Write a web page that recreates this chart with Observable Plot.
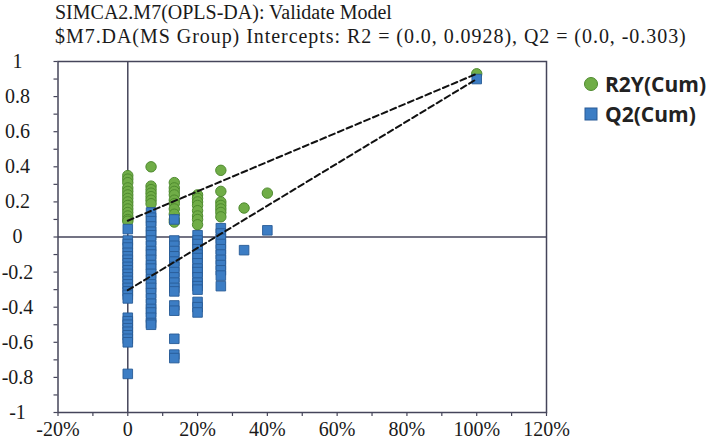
<!DOCTYPE html>
<html>
<head>
<meta charset="utf-8">
<script src="https://cdn.jsdelivr.net/npm/d3@7"></script>
<script src="https://cdn.jsdelivr.net/npm/@observablehq/plot@0.6"></script>
<style>
  html, body { margin: 0; padding: 0; background: #fff; }
  #wrap { position: relative; width: 709px; height: 445px; overflow: hidden; }
  #titles { height: 48px; padding-left: 55px; font-family: "Liberation Serif", "DejaVu Serif", serif; font-size: 20px; line-height: 24px; color: #1a1a1a; white-space: nowrap; }
  #titles .sub { letter-spacing: 0.95px; }
  #chart svg text { font-family: "Liberation Serif", "DejaVu Serif", serif !important; }
  #legend { position: absolute; left: 583px; top: 69px; font-family: "Open Sans", sans-serif; font-weight: 700; font-size: 21px; color: #222; white-space: nowrap; }
  .item { display: flex; align-items: center; height: 30px; }
  .item svg { margin-right: 6px; flex: none; }
</style>
</head>
<body>
<div id="wrap">
  <div id="titles">
    <div>SIMCA2.M7(OPLS-DA): Validate Model</div>
    <div class="sub">$M7.DA(MS Group) Intercepts: R2 = (0.0, 0.0928), Q2 = (0.0, -0.303)</div>
  </div>
  <div id="chart"></div>
  <div id="legend"></div>
</div>
<script>
// ---- data ----
const seriesNames = ["R2Y(Cum)", "Q2(Cum)"];
const permCorr = [0, 0.0667, 0.1333, 0.2, 0.2667, 0.3333, 0.4, 1.0];
const r2yValues = [
  [0.35, 0.33, 0.31, 0.28, 0.26, 0.24, 0.22, 0.20, 0.18, 0.16, 0.14, 0.12, 0.10, 0.09],
  [0.40, 0.29, 0.27, 0.25, 0.23, 0.21, 0.19],
  [0.31, 0.28, 0.26, 0.24, 0.21, 0.19, 0.16, 0.13, 0.10, 0.085],
  [0.24, 0.22, 0.20, 0.18, 0.15, 0.12, 0.10, 0.07],
  [0.38, 0.26, 0.20, 0.18, 0.16, 0.14, 0.115],
  [0.165],
  [0.25],
  [0.93]
];
const q2Values = [
  [0.045, -0.02, -0.04, -0.06, -0.09, -0.11, -0.13, -0.15, -0.17, -0.19, -0.21, -0.23, -0.25, -0.27, -0.29, -0.31, -0.33, -0.35, -0.46, -0.48, -0.50, -0.52, -0.54, -0.56, -0.58, -0.60, -0.78],
  [0.14, 0.11, 0.09, 0.06, 0.03, 0.01, -0.02, -0.05, -0.08, -0.10, -0.13, -0.16, -0.18, -0.21, -0.24, -0.27, -0.29, -0.32, -0.35, -0.38, -0.41, -0.43, -0.46, -0.49, -0.50],
  [0.10, -0.02, -0.05, -0.08, -0.11, -0.14, -0.17, -0.20, -0.23, -0.26, -0.29, -0.31, -0.39, -0.42, -0.58, -0.67, -0.69],
  [0.01, -0.02, -0.04, -0.07, -0.10, -0.12, -0.15, -0.18, -0.20, -0.23, -0.26, -0.28, -0.30, -0.37, -0.40, -0.43],
  [0.05, 0.02, -0.01, -0.04, -0.07, -0.10, -0.13, -0.16, -0.19, -0.22, -0.28],
  [-0.075],
  [0.038],
  [0.90]
];
const r2Intercept = 0.0928;
const q2Intercept = -0.303;
const xTicks = [-0.2, 0, 0.2, 0.4, 0.6, 0.8, 1.0, 1.2];
const yTicks = [-1, -0.8, -0.6, -0.4, -0.2, 0, 0.2, 0.4, 0.6, 0.8, 1];

// ---- styles ----
const serif = "Liberation Serif";
const axisColor = "#45455a";
const green = "#70ad47", greenStroke = "#4e8a2e";
const blue = "#3c7dc4", blueStroke = "#285b96";

// ---- tables ----
const r2Table = permCorr.flatMap((x, i) => r2yValues[i].map(v => ({x, v})));
const q2Table = permCorr.flatMap((x, i) => q2Values[i].map(v => ({x, v})));
const lastIdx = permCorr.length - 1;
const r2Line = [{x: 0, v: r2Intercept}, {x: permCorr[lastIdx], v: r2yValues[lastIdx][0]}];
const q2Line = [{x: 0, v: q2Intercept}, {x: permCorr[lastIdx], v: q2Values[lastIdx][0]}];

const xFmt = d => Math.abs(d) < 1e-9 ? "0" : `${Math.round(d * 100)}%`;
const yFmt = d => String(Math.round(d * 10) / 10);

const chart = Plot.plot({
  width: 709,
  height: 397,
  marginTop: 13,
  marginBottom: 33,
  marginLeft: 57.5,
  marginRight: 163,
  x: {domain: [-0.2, 1.2]},
  y: {domain: [-1, 1]},
  style: {fontFamily: serif, fontSize: "20px", color: "#1a1a1a", background: "white", overflow: "visible"},
  marks: [
    Plot.ruleX([0], {stroke: axisColor, strokeWidth: 1.5}),
    Plot.ruleY([0], {stroke: axisColor, strokeWidth: 1.5}),
    Plot.axisY({ticks: 20, tickSize: 4, tickFormat: () => "", stroke: axisColor, strokeWidth: 1.2, label: null}),
    Plot.axisX({ticks: 14, tickSize: 4, tickFormat: () => "", stroke: axisColor, strokeWidth: 1.2, label: null}),
    Plot.text(yTicks, {y: d => d, frameAnchor: "left", dx: -40.5, text: yFmt, textAnchor: "middle", fontSize: 20, fontFamily: serif, fill: "#1a1a1a"}),
    Plot.text(xTicks, {x: d => d, frameAnchor: "bottom", dy: 23, text: xFmt, textAnchor: "middle", fontSize: 20, fontFamily: serif, fill: "#1a1a1a"}),
    Plot.frame({stroke: axisColor, strokeWidth: 1.5}),
    Plot.dot(r2Table, {x: "x", y: "v", r: 5.2, fill: green, stroke: greenStroke, strokeWidth: 1, symbol: "circle"}),
    Plot.dot(q2Table, {x: "x", y: "v", r: 5.4, fill: blue, stroke: blueStroke, strokeWidth: 0.9, symbol: "square"}),
    Plot.line(r2Line, {x: "x", y: "v", stroke: "#111", strokeWidth: 2, strokeDasharray: "6,3.5"}),
    Plot.line(q2Line, {x: "x", y: "v", stroke: "#111", strokeWidth: 2, strokeDasharray: "6,3.5"})
  ]
});
document.getElementById("chart").appendChild(chart);

// ---- legend ----
const legend = document.getElementById("legend");
const symbols = [
  `<svg width="16" height="16"><circle cx="8" cy="8" r="6.5" fill="${green}" stroke="${greenStroke}" stroke-width="1"/></svg>`,
  `<svg width="16" height="16"><rect x="2" y="2" width="12" height="12" fill="${blue}" stroke="${blueStroke}" stroke-width="1"/></svg>`
];
seriesNames.forEach((name, i) => {
  const div = document.createElement("div");
  div.className = "item";
  div.innerHTML = symbols[i] + `<span>${name}</span>`;
  legend.appendChild(div);
});
</script>
</body>
</html>
